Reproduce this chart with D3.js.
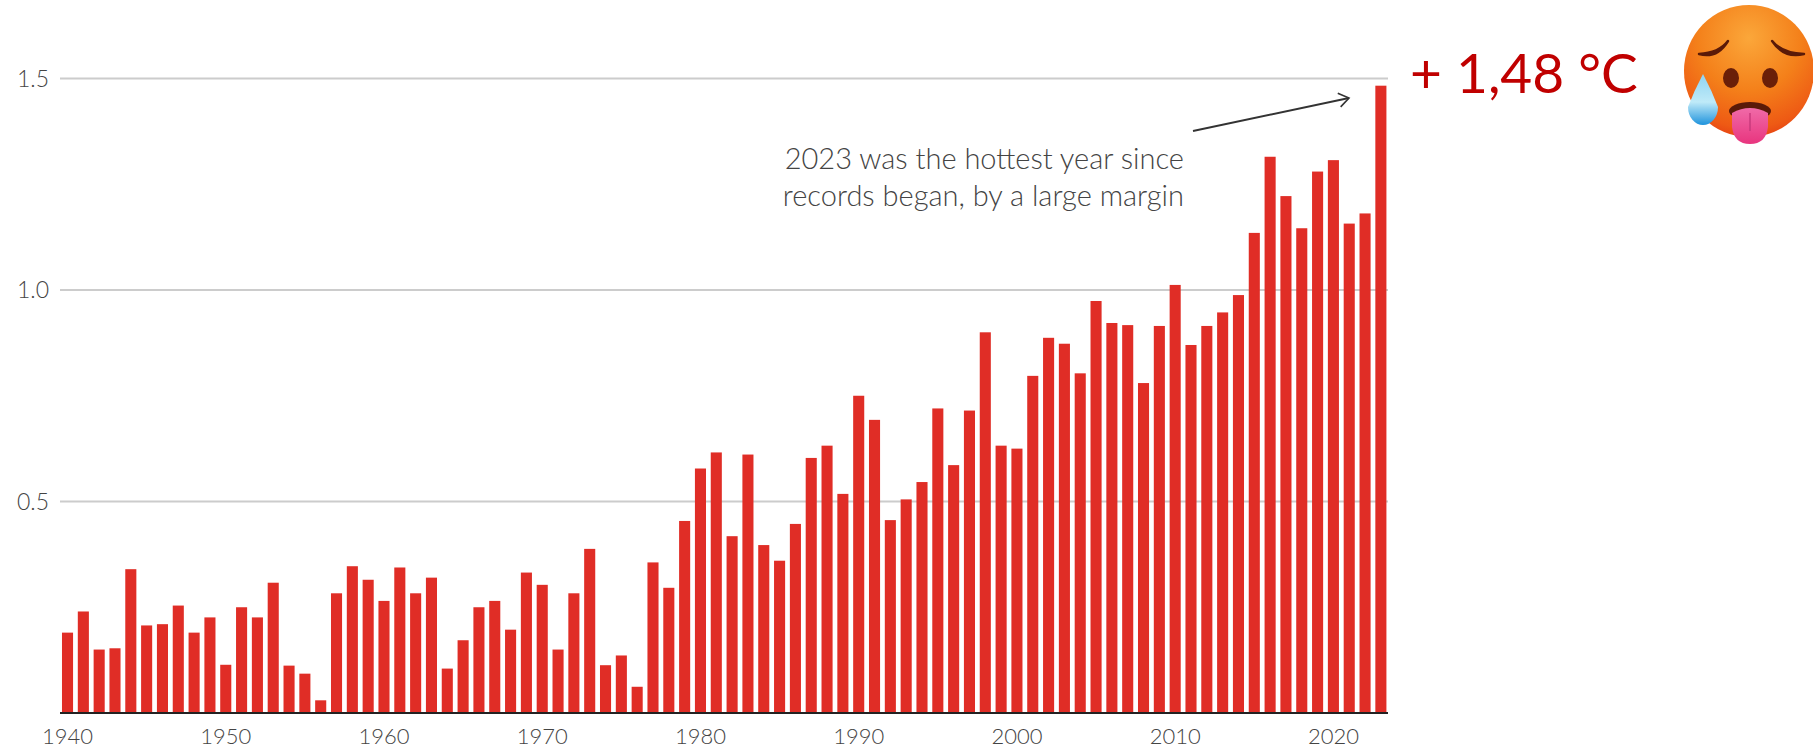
<!DOCTYPE html>
<html><head><meta charset="utf-8">
<script src="https://cdn.jsdelivr.net/npm/d3@7"></script>
<style>html,body{margin:0;padding:0;background:#fff;overflow:hidden}</style></head>
<body><div id="chart"></div>
<script>
const years = d3.range(1940, 2024);
const anomalies = [.19,.24,.15,.153,.34,.207,.21,.254,.19,.226,.114,.25,.226,.308,.112,.093,.03,.283,.347,.315,.265,.344,.283,.32,.105,.172,.25,.265,.197,.332,.303,.15,.283,.388,.113,.136,.062,.356,.296,.454,.578,.616,.418,.611,.397,.36,.447,.603,.632,.518,.75,.693,.456,.505,.546,.72,.586,.715,.90,.632,.625,.797,.887,.873,.803,.974,.922,.917,.78,.915,1.012,.87,.915,.947,.988,1.135,1.315,1.222,1.146,1.28,1.307,1.157,1.181,1.483];
const yTicks = [0.5, 1.0, 1.5];
const xTicks = [1940,1950,1960,1970,1980,1990,2000,2010,2020];
const noteLines = ["2023 was the hottest year since","records began, by a large margin"];
const valueLabel = "+ 1,48 °C";
const FONT = "Lato, sans-serif";

const svg = d3.select("#chart").append("svg").attr("width",1813).attr("height",756);
const x = d3.scaleBand().domain(years).range([60.4,1388]).paddingInner(.3).paddingOuter(.1);
const y = d3.scaleLinear().domain([0,1.5]).range([713,78.5]);

const grid = svg.append("g");
grid.selectAll("line").data(yTicks).join("line")
 .attr("x1",60).attr("x2",1388).attr("y1",d=>y(d)).attr("y2",d=>y(d))
 .attr("stroke","#cccccc").attr("stroke-width",1.8);
grid.selectAll("text").data(yTicks).join("text")
 .attr("x",49).attr("y",d=>y(d)+8).attr("text-anchor","end")
 .attr("font-family",FONT).attr("font-weight",300).attr("font-size",23).attr("fill","#444")
 .text(d=>d.toFixed(1));

svg.append("g").selectAll("rect").data(years).join("rect")
 .attr("x",d=>x(d)).attr("width",x.bandwidth())
 .attr("y",(d,i)=>y(anomalies[i])).attr("height",(d,i)=>y(0)-y(anomalies[i]))
 .attr("fill","#e02d26");

const xAxis = d3.axisBottom(x).tickValues(xTicks).tickSize(0).tickPadding(15);
const gx = svg.append("g").attr("transform","translate(0,713)").call(xAxis);
gx.select(".domain").attr("stroke","#222").attr("stroke-width",2).attr("d","M60,0H1388");
gx.selectAll("text").attr("font-family",FONT).attr("font-weight",300).attr("font-size",22).attr("fill","#444");

svg.append("defs").append("marker").attr("id","arr").attr("markerUnits","userSpaceOnUse")
 .attr("markerWidth",20).attr("markerHeight",20).attr("refX",15).attr("refY",10).attr("orient","auto")
 .append("path").attr("d","M5,3L15,10L5,17").attr("fill","none").attr("stroke","#333").attr("stroke-width",1.6);
svg.append("line").attr("x1",1193).attr("y1",131).attr("x2",1349).attr("y2",98)
 .attr("stroke","#333").attr("stroke-width",1.8).attr("marker-end","url(#arr)");

svg.append("g").selectAll("text").data(noteLines).join("text")
 .attr("x",1184).attr("y",(d,i)=>169+i*37).attr("text-anchor","end")
 .attr("font-family",FONT).attr("font-weight",300).attr("font-size",29).attr("fill","#444")
 .text(d=>d);

svg.append("text").attr("x",1410).attr("y",93).attr("font-family",FONT)
 .attr("font-size",55).attr("fill","#c00000").text(valueLabel);

const e = svg.append("g").attr("transform","translate(1749,71)");
const defs = svg.select("defs");
const g1 = defs.append("radialGradient").attr("id","face").attr("cx",.5).attr("cy",.25).attr("r",.8);
[[0,"#fba73a"],[.5,"#f4801a"],[.85,"#ee5a14"],[1,"#e43a12"]].forEach(s=>g1.append("stop").attr("offset",s[0]).attr("stop-color",s[1]));
const g2 = defs.append("linearGradient").attr("id","drop").attr("x1",0).attr("y1",0).attr("x2",0).attr("y2",1);
[[0,"#8fd4f2"],[.55,"#bfeaf8"],[1,"#1f93dc"]].forEach(s=>g2.append("stop").attr("offset",s[0]).attr("stop-color",s[1]));
const g3 = defs.append("linearGradient").attr("id","tongue").attr("x1",0).attr("y1",0).attr("x2",0).attr("y2",1);
[[0,"#f06aa8"],[1,"#e8357e"]].forEach(s=>g3.append("stop").attr("offset",s[0]).attr("stop-color",s[1]));
e.append("ellipse").attr("rx",65).attr("ry",66).attr("fill","url(#face)");
[-1,1].forEach(s=>{
  const c = s<0 ? -1 : 1.1;
  e.append("path").attr("d",`M${c*21},-30Q${c*30},-18 ${c*50},-17Q${c*32},-12 ${c*21},-30Z`).attr("fill","#5a1a08").attr("stroke","#5a1a08").attr("stroke-width",2.5).attr("stroke-linejoin","round");
  e.append("ellipse").attr("cx",s<0?-18:21).attr("cy",7).attr("rx",8).attr("ry",10).attr("fill","#6a1f08");
});
e.append("ellipse").attr("cx",1).attr("cy",40).attr("rx",21).attr("ry",9).attr("fill","#5a1a08");
e.append("path").attr("d","M-17,42Q1,32 19,42L19,56Q17,73 1,73Q-15,73 -17,56Z").attr("fill","url(#tongue)");
e.append("path").attr("d","M1,42L1,60").attr("stroke","#c93a7c").attr("stroke-width",1.5);
e.append("path").attr("d","M-46,3Q-37,20 -31,36A15,18 0 0 1 -61,36Q-55,20 -46,3Z").attr("fill","url(#drop)");
</script></body></html>
